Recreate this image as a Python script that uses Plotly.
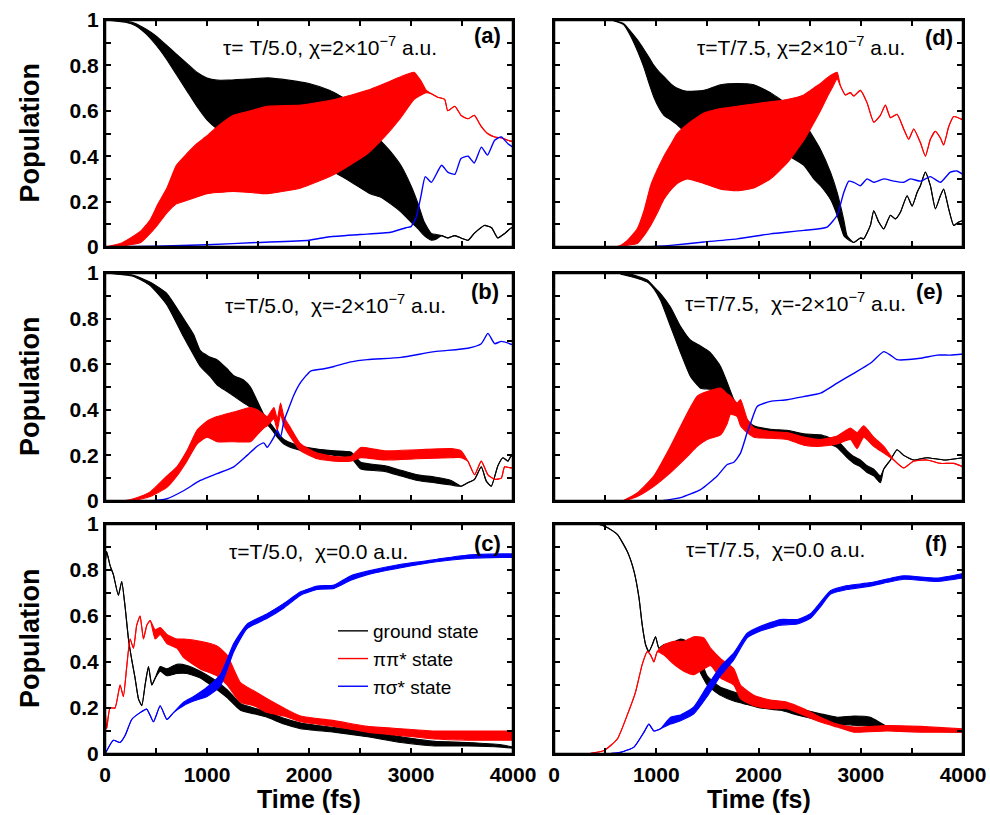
import plotly.graph_objects as go

# ---------------- DATA ----------------
# Each series: time grid (fs), lower and upper envelope of population
# (where lower == upper the curve is a thin line)

# Panel (a): tau=T/5.0, chi=2e-7
A_BLK_T  = [0, 200, 300, 400, 500, 600, 700, 800, 900, 1000, 1100, 1200, 1400, 1600, 1800, 2000, 2200, 2400, 2600, 2700, 2800, 2900, 3000, 3070, 3130, 3200, 3250, 3300, 3360, 3430, 3490, 3560, 3620, 3720, 3790, 3850, 3920, 3984, 4000]
A_BLK_HI = [1.0, 0.995, 0.985, 0.96, 0.93, 0.89, 0.85, 0.81, 0.77, 0.745, 0.735, 0.735, 0.74, 0.745, 0.735, 0.72, 0.69, 0.64, 0.53, 0.47, 0.42, 0.36, 0.27, 0.19, 0.11, 0.06, 0.055, 0.05, 0.04, 0.05, 0.04, 0.03, 0.06, 0.095, 0.085, 0.04, 0.06, 0.085, 0.08]
A_BLK_LO = [1.0, 0.99, 0.975, 0.94, 0.89, 0.83, 0.76, 0.69, 0.62, 0.56, 0.52, 0.49, 0.46, 0.43, 0.40, 0.37, 0.34, 0.29, 0.235, 0.22, 0.19, 0.155, 0.11, 0.08, 0.05, 0.03, 0.035, 0.05, 0.04, 0.05, 0.04, 0.03, 0.06, 0.095, 0.085, 0.04, 0.06, 0.085, 0.08]
A_RED_T  = [0, 150, 250, 350, 443, 520, 607, 700, 800, 900, 1000, 1100, 1260, 1430, 1590, 1920, 2250, 2570, 2740, 2900, 3030, 3100, 3150, 3200, 3260, 3330, 3360, 3430, 3490, 3560, 3620, 3690, 3750, 3820, 3890, 3950, 4000]
A_RED_HI = [0.0, 0.015, 0.04, 0.07, 0.12, 0.19, 0.26, 0.36, 0.41, 0.455, 0.49, 0.53, 0.58, 0.60, 0.62, 0.625, 0.65, 0.69, 0.72, 0.75, 0.77, 0.73, 0.69, 0.675, 0.66, 0.65, 0.60, 0.62, 0.58, 0.565, 0.58, 0.53, 0.50, 0.485, 0.48, 0.47, 0.465]
A_RED_LO = [0.0, 0.003, 0.01, 0.02, 0.06, 0.10, 0.15, 0.19, 0.205, 0.22, 0.235, 0.24, 0.245, 0.24, 0.235, 0.26, 0.32, 0.41, 0.485, 0.57, 0.65, 0.67, 0.68, 0.675, 0.66, 0.65, 0.60, 0.62, 0.58, 0.565, 0.58, 0.53, 0.50, 0.485, 0.48, 0.47, 0.465]
A_BLU_T  = [0, 500, 1000, 1500, 2000, 2200, 2500, 2800, 2950, 3000, 3050, 3100, 3140, 3200, 3300, 3360, 3430, 3490, 3560, 3620, 3690, 3750, 3820, 3885, 3950, 4000]
A_BLU_Y  = [0.0, 0.003, 0.01, 0.02, 0.03, 0.045, 0.055, 0.065, 0.085, 0.09, 0.13, 0.23, 0.31, 0.285, 0.36, 0.33, 0.32, 0.39, 0.40, 0.37, 0.44, 0.405, 0.47, 0.485, 0.455, 0.44]

# Panel (d): tau=T/7.5, chi=2e-7
D_BLK_T  = [560, 680, 749, 820, 880, 930, 977, 1030, 1075, 1140, 1200, 1300, 1466, 1629, 1792, 1954, 2117, 2215, 2300, 2443, 2541, 2606, 2704, 2769, 2834, 2866, 2932, 2997, 3029, 3094, 3127, 3176, 3225, 3290, 3339, 3388, 3453, 3502, 3551, 3583, 3632, 3681, 3730, 3779, 3811, 3860, 3909, 3958, 4000]
D_BLK_HI = [1.0, 0.985, 0.95, 0.91, 0.87, 0.835, 0.80, 0.77, 0.75, 0.72, 0.70, 0.686, 0.69, 0.715, 0.72, 0.715, 0.68, 0.65, 0.62, 0.55, 0.48, 0.43, 0.33, 0.24, 0.12, 0.05, 0.02, 0.04, 0.036, 0.095, 0.16, 0.11, 0.08, 0.14, 0.124, 0.153, 0.226, 0.18, 0.24, 0.27, 0.33, 0.27, 0.168, 0.226, 0.255, 0.168, 0.095, 0.11, 0.117]
D_BLK_LO = [1.0, 0.98, 0.93, 0.86, 0.79, 0.72, 0.66, 0.61, 0.58, 0.56, 0.54, 0.50, 0.47, 0.46, 0.46, 0.46, 0.45, 0.42, 0.40, 0.36, 0.30, 0.27, 0.21, 0.14, 0.05, 0.036, 0.02, 0.04, 0.036, 0.095, 0.16, 0.11, 0.08, 0.14, 0.124, 0.153, 0.226, 0.18, 0.24, 0.27, 0.33, 0.27, 0.168, 0.226, 0.255, 0.168, 0.095, 0.11, 0.117]
D_RED_T  = [600, 651, 720, 814, 880, 945, 1010, 1075, 1140, 1205, 1303, 1466, 1629, 1792, 1954, 2117, 2280, 2443, 2508, 2606, 2671, 2720, 2769, 2801, 2850, 2899, 2932, 2997, 3062, 3127, 3192, 3241, 3290, 3355, 3420, 3469, 3518, 3583, 3632, 3681, 3730, 3779, 3811, 3860, 3909, 4000]
D_RED_HI = [0.0, 0.007, 0.03, 0.08, 0.16, 0.27, 0.34, 0.40, 0.45, 0.50, 0.54, 0.59, 0.61, 0.62, 0.63, 0.64, 0.65, 0.67, 0.69, 0.72, 0.745, 0.76, 0.77, 0.71, 0.67, 0.68, 0.665, 0.69, 0.635, 0.55, 0.58, 0.625, 0.57, 0.585, 0.52, 0.475, 0.52, 0.46, 0.40, 0.475, 0.51, 0.48, 0.45, 0.53, 0.575, 0.56]
D_RED_LO = [0.0, 0.003, 0.008, 0.015, 0.05, 0.095, 0.15, 0.21, 0.25, 0.28, 0.30, 0.28, 0.255, 0.248, 0.26, 0.30, 0.37, 0.47, 0.52, 0.60, 0.66, 0.70, 0.74, 0.71, 0.67, 0.68, 0.665, 0.69, 0.635, 0.55, 0.58, 0.625, 0.57, 0.585, 0.52, 0.475, 0.52, 0.46, 0.40, 0.475, 0.51, 0.48, 0.45, 0.53, 0.575, 0.56]
D_BLU_T  = [900, 1140, 1466, 1792, 2117, 2443, 2671, 2769, 2834, 2883, 2932, 2997, 3062, 3127, 3225, 3323, 3420, 3485, 3583, 3681, 3779, 3876, 3941, 4000]
D_BLU_Y  = [0.0, 0.007, 0.022, 0.036, 0.058, 0.073, 0.088, 0.14, 0.24, 0.29, 0.285, 0.27, 0.30, 0.285, 0.30, 0.29, 0.285, 0.30, 0.29, 0.31, 0.285, 0.33, 0.335, 0.32]

# Panel (b): tau=T/5.0, chi=-2e-7
B_BLK_T  = [0, 279, 443, 607, 770, 869, 934, 1033, 1098, 1197, 1262, 1361, 1426, 1492, 1557, 1623, 1689, 1754, 1852, 1984, 2246, 2410, 2508, 2738, 2902, 3066, 3230, 3393, 3492, 3557, 3623, 3689, 3738, 3787, 3852, 3902, 3951, 3984, 4000]
B_BLK_HI = [1.0, 0.99, 0.96, 0.91, 0.80, 0.73, 0.66, 0.63, 0.62, 0.58, 0.55, 0.53, 0.50, 0.44, 0.38, 0.34, 0.30, 0.27, 0.25, 0.235, 0.22, 0.215, 0.17, 0.155, 0.135, 0.115, 0.105, 0.09, 0.065, 0.08, 0.095, 0.15, 0.087, 0.065, 0.155, 0.19, 0.175, 0.2, 0.19]
B_BLK_LO = [1.0, 0.985, 0.945, 0.86, 0.72, 0.64, 0.59, 0.545, 0.51, 0.48, 0.46, 0.43, 0.41, 0.37, 0.35, 0.32, 0.28, 0.25, 0.23, 0.215, 0.20, 0.19, 0.14, 0.13, 0.11, 0.09, 0.08, 0.07, 0.065, 0.08, 0.095, 0.15, 0.087, 0.065, 0.155, 0.19, 0.175, 0.2, 0.19]
B_RED_T  = [0, 213, 279, 443, 607, 705, 803, 902, 1000, 1098, 1262, 1426, 1492, 1557, 1590, 1656, 1689, 1721, 1754, 1820, 1918, 2082, 2246, 2410, 2508, 2738, 3066, 3393, 3492, 3557, 3623, 3689, 3754, 3820, 3885, 3918, 3984, 4000]
B_RED_HI = [0.0, 0.003, 0.01, 0.04, 0.11, 0.15, 0.22, 0.31, 0.35, 0.37, 0.39, 0.41, 0.40, 0.38, 0.37, 0.41, 0.36, 0.43, 0.37, 0.32, 0.25, 0.21, 0.195, 0.195, 0.235, 0.22, 0.225, 0.23, 0.22, 0.175, 0.115, 0.175, 0.115, 0.095, 0.10, 0.15, 0.145, 0.15]
B_RED_LO = [0.0, 0.0, 0.003, 0.02, 0.06, 0.11, 0.175, 0.25, 0.28, 0.26, 0.26, 0.26, 0.29, 0.32, 0.33, 0.36, 0.31, 0.38, 0.33, 0.28, 0.22, 0.185, 0.175, 0.175, 0.19, 0.18, 0.185, 0.19, 0.19, 0.175, 0.115, 0.175, 0.115, 0.095, 0.10, 0.15, 0.145, 0.15]
B_BLU_T  = [0, 443, 607, 770, 934, 1098, 1262, 1393, 1492, 1557, 1590, 1656, 1689, 1721, 1754, 1787, 1852, 1918, 2016, 2148, 2246, 2410, 2574, 2902, 3230, 3557, 3689, 3754, 3820, 3885, 4000]
B_BLU_Y  = [0.0, 0.0, 0.01, 0.045, 0.09, 0.12, 0.15, 0.20, 0.24, 0.255, 0.235, 0.28, 0.31, 0.28, 0.35, 0.39, 0.465, 0.52, 0.57, 0.58, 0.59, 0.61, 0.62, 0.63, 0.655, 0.67, 0.69, 0.735, 0.69, 0.70, 0.685]

# Panel (e): tau=T/7.5, chi=-2e-7
E_BLK_T  = [651, 749, 912, 977, 1042, 1140, 1238, 1336, 1433, 1531, 1629, 1694, 1759, 1824, 1857, 1954, 2117, 2280, 2443, 2606, 2769, 2866, 2932, 2997, 3062, 3127, 3192, 3225, 3290, 3355, 3420, 3518, 3648, 3811, 4000]
E_BLK_HI = [1.0, 0.995, 0.97, 0.94, 0.91, 0.85, 0.765, 0.705, 0.68, 0.65, 0.59, 0.52, 0.445, 0.40, 0.37, 0.33, 0.315, 0.31, 0.295, 0.29, 0.265, 0.22, 0.195, 0.18, 0.155, 0.14, 0.11, 0.14, 0.18, 0.225, 0.20, 0.18, 0.19, 0.18, 0.19]
E_BLK_LO = [0.995, 0.985, 0.96, 0.93, 0.88, 0.765, 0.65, 0.545, 0.495, 0.49, 0.475, 0.44, 0.41, 0.37, 0.33, 0.30, 0.29, 0.285, 0.27, 0.265, 0.235, 0.19, 0.165, 0.15, 0.125, 0.11, 0.08, 0.14, 0.18, 0.225, 0.20, 0.18, 0.19, 0.18, 0.19]
E_RED_T  = [684, 814, 977, 1140, 1303, 1401, 1498, 1629, 1694, 1726, 1792, 1824, 1889, 1954, 2117, 2280, 2443, 2606, 2769, 2899, 2964, 3029, 3127, 3225, 3323, 3420, 3518, 3648, 3779, 3909, 4000]
E_RED_HI = [0.003, 0.035, 0.11, 0.24, 0.385, 0.46, 0.48, 0.495, 0.47, 0.46, 0.43, 0.445, 0.36, 0.32, 0.305, 0.30, 0.28, 0.27, 0.285, 0.32, 0.30, 0.33, 0.28, 0.24, 0.18, 0.145, 0.175, 0.18, 0.165, 0.165, 0.15]
E_RED_LO = [0.0, 0.02, 0.065, 0.125, 0.195, 0.24, 0.27, 0.29, 0.34, 0.38, 0.37, 0.33, 0.30, 0.28, 0.275, 0.27, 0.245, 0.24, 0.25, 0.27, 0.23, 0.28, 0.24, 0.21, 0.18, 0.145, 0.175, 0.18, 0.165, 0.165, 0.15]
E_BLU_T  = [1042, 1238, 1433, 1596, 1694, 1759, 1824, 1889, 1922, 1987, 2117, 2280, 2443, 2606, 2769, 2932, 3094, 3225, 3290, 3355, 3583, 3746, 3876, 4000]
E_BLU_Y  = [0.0, 0.015, 0.05, 0.11, 0.16, 0.17, 0.21, 0.30, 0.34, 0.415, 0.437, 0.444, 0.458, 0.473, 0.517, 0.56, 0.604, 0.655, 0.64, 0.62, 0.626, 0.64, 0.64, 0.645]

# Panel (c): tau=T/5.0, chi=0.0
C_BLK_T  = [0, 16, 49, 82, 131, 164, 197, 230, 262, 295, 328, 361, 393, 426, 459, 492, 541, 607, 705, 803, 934, 1066, 1197, 1328, 1459, 1590, 1754, 1918, 2246, 2574, 2902, 3230, 3557, 3885, 4000]
C_BLK_HI = [0.82, 0.88, 0.82, 0.78, 0.69, 0.75, 0.64, 0.50, 0.41, 0.33, 0.24, 0.21, 0.30, 0.38, 0.30, 0.33, 0.38, 0.37, 0.39, 0.385, 0.36, 0.325, 0.28, 0.22, 0.20, 0.185, 0.155, 0.135, 0.115, 0.10, 0.075, 0.055, 0.05, 0.04, 0.03]
C_BLK_LO = [0.82, 0.88, 0.82, 0.78, 0.69, 0.75, 0.64, 0.50, 0.41, 0.33, 0.24, 0.21, 0.30, 0.38, 0.30, 0.33, 0.36, 0.34, 0.35, 0.35, 0.33, 0.29, 0.245, 0.19, 0.175, 0.16, 0.13, 0.11, 0.095, 0.075, 0.05, 0.035, 0.035, 0.03, 0.025]
C_RED_T  = [0, 16, 49, 98, 148, 180, 213, 246, 279, 311, 344, 377, 410, 443, 492, 541, 607, 705, 770, 934, 1098, 1197, 1328, 1459, 1590, 1754, 1918, 2246, 2574, 2902, 3230, 3557, 4000]
C_RED_HI = [0.21, 0.11, 0.20, 0.20, 0.30, 0.25, 0.38, 0.50, 0.46, 0.56, 0.60, 0.50, 0.56, 0.58, 0.54, 0.55, 0.52, 0.50, 0.50, 0.49, 0.47, 0.43, 0.31, 0.275, 0.24, 0.20, 0.165, 0.145, 0.12, 0.11, 0.10, 0.10, 0.10]
C_RED_LO = [0.21, 0.11, 0.20, 0.20, 0.30, 0.25, 0.38, 0.50, 0.46, 0.56, 0.60, 0.50, 0.56, 0.58, 0.50, 0.52, 0.48, 0.46, 0.42, 0.37, 0.34, 0.30, 0.225, 0.21, 0.18, 0.165, 0.14, 0.12, 0.095, 0.08, 0.065, 0.06, 0.06]
C_BLU_T  = [0, 82, 148, 197, 262, 344, 410, 475, 541, 607, 672, 770, 869, 1000, 1131, 1262, 1393, 1590, 1754, 1918, 2082, 2246, 2410, 2574, 2902, 3230, 3557, 3885, 4000]
C_BLU_HI = [0.0, 0.06, 0.05, 0.08, 0.15, 0.18, 0.195, 0.14, 0.21, 0.15, 0.18, 0.225, 0.25, 0.29, 0.345, 0.48, 0.565, 0.61, 0.655, 0.705, 0.73, 0.735, 0.775, 0.795, 0.825, 0.845, 0.865, 0.87, 0.87]
C_BLU_LO = [0.0, 0.06, 0.05, 0.08, 0.15, 0.18, 0.195, 0.14, 0.21, 0.15, 0.18, 0.21, 0.23, 0.25, 0.295, 0.445, 0.545, 0.59, 0.635, 0.69, 0.715, 0.72, 0.755, 0.78, 0.81, 0.835, 0.85, 0.855, 0.855]

# Panel (f): tau=T/7.5, chi=0.0
F_BLK_T  = [326, 423, 521, 619, 717, 782, 831, 863, 896, 928, 961, 993, 1026, 1075, 1140, 1238, 1300, 1400, 1498, 1629, 1759, 1889, 2019, 2215, 2378, 2606, 2769, 2932, 3094, 3257, 3420, 3583, 4000]
F_BLK_HI = [1.0, 1.0, 0.985, 0.955, 0.88, 0.795, 0.68, 0.56, 0.475, 0.445, 0.475, 0.51, 0.46, 0.475, 0.48, 0.50, 0.49, 0.45, 0.34, 0.29, 0.27, 0.25, 0.235, 0.22, 0.20, 0.175, 0.16, 0.165, 0.16, 0.12, 0.11, 0.107, 0.10]
F_BLK_LO = [1.0, 1.0, 0.985, 0.955, 0.88, 0.795, 0.68, 0.56, 0.475, 0.445, 0.475, 0.51, 0.46, 0.475, 0.445, 0.465, 0.45, 0.38, 0.30, 0.255, 0.23, 0.215, 0.20, 0.19, 0.17, 0.145, 0.13, 0.125, 0.12, 0.105, 0.10, 0.10, 0.095]
F_RED_T  = [326, 489, 619, 717, 798, 863, 912, 945, 977, 1010, 1075, 1173, 1270, 1368, 1466, 1531, 1629, 1759, 1824, 1954, 2117, 2280, 2443, 2606, 2769, 2932, 3257, 3583, 4000]
F_RED_HI = [0.0, 0.015, 0.065, 0.17, 0.27, 0.39, 0.445, 0.43, 0.40, 0.445, 0.475, 0.49, 0.49, 0.51, 0.505, 0.46, 0.415, 0.37, 0.30, 0.255, 0.235, 0.225, 0.197, 0.16, 0.13, 0.117, 0.124, 0.12, 0.11]
F_RED_LO = [0.0, 0.015, 0.065, 0.17, 0.27, 0.39, 0.445, 0.43, 0.40, 0.445, 0.43, 0.39, 0.36, 0.345, 0.37, 0.385, 0.33, 0.30, 0.24, 0.21, 0.197, 0.197, 0.168, 0.139, 0.117, 0.095, 0.10, 0.095, 0.095]
F_BLU_T  = [521, 651, 782, 880, 928, 977, 1042, 1140, 1238, 1368, 1498, 1629, 1759, 1889, 2019, 2215, 2378, 2508, 2606, 2704, 2866, 3094, 3420, 3746, 4000]
F_BLU_HI = [0.0, 0.007, 0.03, 0.095, 0.13, 0.10, 0.11, 0.16, 0.17, 0.205, 0.295, 0.38, 0.44, 0.525, 0.555, 0.585, 0.585, 0.61, 0.66, 0.71, 0.732, 0.745, 0.775, 0.765, 0.785]
F_BLU_LO = [0.0, 0.007, 0.03, 0.095, 0.13, 0.10, 0.11, 0.13, 0.145, 0.175, 0.25, 0.34, 0.41, 0.505, 0.535, 0.56, 0.565, 0.59, 0.64, 0.695, 0.715, 0.73, 0.76, 0.75, 0.765]

PANEL_LABELS = ["(a)", "(d)", "(b)", "(e)", "(c)", "(f)"]
PANEL_TEXTS = [
    "τ= T/5.0, χ=2×10<sup>−7</sup> a.u.",
    "τ=T/7.5, χ=2×10<sup>−7</sup> a.u.",
    "τ=T/5.0,  χ=-2×10<sup>−7</sup> a.u.",
    "τ=T/7.5,  χ=-2×10<sup>−7</sup> a.u.",
    "τ=T/5.0,  χ=0.0 a.u.",
    "τ=T/7.5,  χ=0.0 a.u.",
]
LEGEND_NAMES = ["ground state", "ππ* state", "πσ* state"]
COLORS = ["#000000", "#ff0000", "#0000ff"]
X_TICKS = [0, 1000, 2000, 3000, 4000]
Y_TICKS = [0, 0.2, 0.4, 0.6, 0.8, 1]

# ---------------- LAYOUT GEOMETRY (pixels) ----------------
W, H = 990, 815
COLS_PX = [(105, 513), (554, 963)]
ROWS_PX = [(20, 247), (273, 501), (524, 754)]
TEXT_POS = [(330, 46), (801, 46), (335, 304), (795, 302), (318, 551), (775, 549)]
LABEL_POS = [(487, 36), (939, 38), (485, 292), (929, 292), (487, 543), (936, 543)]
FONT = "Liberation Sans, Arial, Helvetica, sans-serif"

panels = [
    (0, 0, [("band", A_BLK_T, A_BLK_LO, A_BLK_HI, 0), ("band", A_RED_T, A_RED_LO, A_RED_HI, 1), ("line", A_BLU_T, A_BLU_Y, None, 2)]),
    (0, 1, [("band", D_BLK_T, D_BLK_LO, D_BLK_HI, 0), ("band", D_RED_T, D_RED_LO, D_RED_HI, 1), ("line", D_BLU_T, D_BLU_Y, None, 2)]),
    (1, 0, [("band", B_BLK_T, B_BLK_LO, B_BLK_HI, 0), ("band", B_RED_T, B_RED_LO, B_RED_HI, 1), ("line", B_BLU_T, B_BLU_Y, None, 2)]),
    (1, 1, [("band", E_BLK_T, E_BLK_LO, E_BLK_HI, 0), ("band", E_RED_T, E_RED_LO, E_RED_HI, 1), ("line", E_BLU_T, E_BLU_Y, None, 2)]),
    (2, 0, [("band", C_BLK_T, C_BLK_LO, C_BLK_HI, 0), ("band", C_RED_T, C_RED_LO, C_RED_HI, 1), ("band", C_BLU_T, C_BLU_LO, C_BLU_HI, 2)]),
    (2, 1, [("band", F_BLK_T, F_BLK_LO, F_BLK_HI, 0), ("band", F_RED_T, F_RED_LO, F_RED_HI, 1), ("band", F_BLU_T, F_BLU_LO, F_BLU_HI, 2)]),
]

fig = go.Figure()
layout = dict(
    template="none",
    width=W, height=H,
    margin=dict(l=0, r=0, t=0, b=0, pad=0, autoexpand=False),
    paper_bgcolor="white", plot_bgcolor="white",
    showlegend=True,
    font=dict(family=FONT, color="black"),
)
annotations = []
shapes = []

for idx, (r, c, series) in enumerate(panels):
    n = idx + 1
    xa = "xaxis" if n == 1 else f"xaxis{n}"
    ya = "yaxis" if n == 1 else f"yaxis{n}"
    xref = "x" if n == 1 else f"x{n}"
    yref = "y" if n == 1 else f"y{n}"
    x0, x1 = COLS_PX[c]
    y0, y1 = ROWS_PX[r]
    common = dict(showline=True, mirror="allticks", linecolor="black", linewidth=2,
                  ticks="inside", ticklen=6, tickwidth=1.5, tickcolor="black",
                  showgrid=False, zeroline=False, automargin=False, layer="above traces",
                  tickfont=dict(family=FONT, size=21, color="black", weight="bold"))
    layout[xa] = dict(common, domain=[x0 / W, x1 / W], range=[0, 4000], tickvals=X_TICKS,
                      anchor=yref, showticklabels=(r == 2), ticklabelstandoff=1,
                      minor=dict(dtick=500, ticks="inside", ticklen=6, tickwidth=1.5, tickcolor="black"))
    layout[ya] = dict(common, domain=[1 - y1 / H, 1 - y0 / H], range=[0, 1], tickvals=Y_TICKS,
                      anchor=xref, showticklabels=(c == 0),
                      minor=dict(dtick=0.1, ticks="inside", ticklen=6, tickwidth=1.5, tickcolor="black"))
    # panel frame (paper-referenced so it is never clipped)
    shapes.append(dict(type="rect", xref="paper", yref="paper",
                       x0=x0 / W, x1=x1 / W, y0=1 - y1 / H, y1=1 - y0 / H, layer="above",
                       line=dict(color="black", width=2.5), fillcolor="rgba(0,0,0,0)"))
    for kind, t, a, b, ci in series:
        col = COLORS[ci]
        if kind == "band":
            fig.add_trace(go.Scatter(x=t, y=a, mode="lines", line=dict(color=col, width=1.1, shape="spline", smoothing=0.5),
                                     xaxis=xref, yaxis=yref, showlegend=False, hoverinfo="skip"))
            fig.add_trace(go.Scatter(x=t, y=b, mode="lines", line=dict(color=col, width=1.1, shape="spline", smoothing=0.5),
                                     fill="tonexty", fillcolor=col,
                                     xaxis=xref, yaxis=yref, showlegend=False, hoverinfo="skip"))
        else:
            fig.add_trace(go.Scatter(x=t, y=a, mode="lines", line=dict(color=col, width=1.4, shape="spline", smoothing=0.5),
                                     xaxis=xref, yaxis=yref, showlegend=False, hoverinfo="skip"))
    tx, ty = TEXT_POS[idx]
    annotations.append(dict(text=PANEL_TEXTS[idx], xref="paper", yref="paper",
                            x=tx / W, y=1 - ty / H,
                            showarrow=False, xanchor="center", yanchor="middle",
                            font=dict(family=FONT, size=21, color="black")))
    lx, ly = LABEL_POS[idx]
    annotations.append(dict(text=PANEL_LABELS[idx], xref="paper", yref="paper",
                            x=lx / W, y=1 - ly / H,
                            showarrow=False, xanchor="center", yanchor="middle",
                            font=dict(family=FONT, size=22, color="black", weight="bold")))

# legend entries (panel c)
for name, col in zip(LEGEND_NAMES, COLORS):
    fig.add_trace(go.Scatter(x=[None], y=[None], mode="lines", name=name,
                             line=dict(color=col, width=1.4), xaxis="x5", yaxis="y5"))

# axis titles
for (y0, y1) in ROWS_PX:
    annotations.append(dict(text="<b>Population</b>", xref="paper", yref="paper",
                            x=30 / W, y=1 - ((y0 + y1) / 2) / H, textangle=-90,
                            showarrow=False, xanchor="center", yanchor="middle",
                            font=dict(family=FONT, size=27, color="black")))
for (x0, x1) in COLS_PX:
    annotations.append(dict(text="<b>Time (fs)</b>", xref="paper", yref="paper",
                            x=((x0 + x1) / 2) / W, y=1 - 799 / H,
                            showarrow=False, xanchor="center", yanchor="middle",
                            font=dict(family=FONT, size=25, color="black")))

layout["annotations"] = annotations
layout["shapes"] = shapes
layout["legend"] = dict(x=333 / W, y=1 - 612 / H, xanchor="left", yanchor="top",
                        traceorder="normal",
                        bgcolor="rgba(0,0,0,0)", borderwidth=0,
                        font=dict(family=FONT, size=19, color="black"),
                        tracegroupgap=0)
fig.update_layout(**layout)
fig.write_html("out.html")
